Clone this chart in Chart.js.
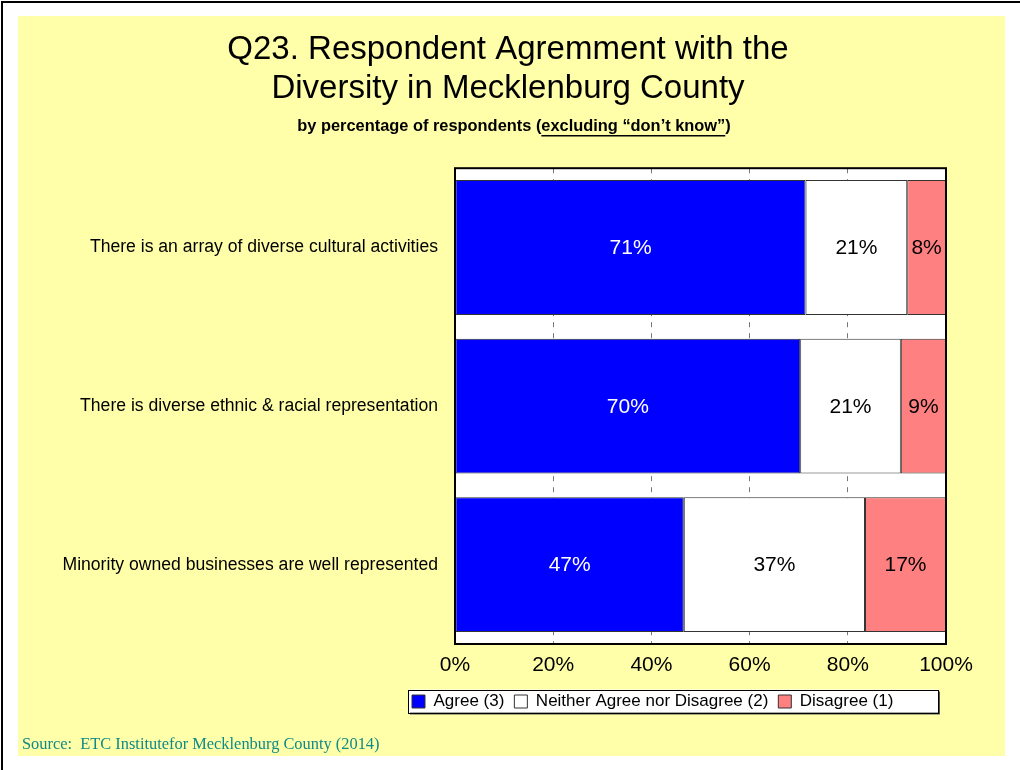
<!DOCTYPE html>
<html>
<head>
<meta charset="utf-8">
<script src="https://cdn.jsdelivr.net/npm/chart.js@4.4.0/dist/chart.umd.min.js"></script>
<style>
  body { margin: 0; background: #fff; }
  #frame { position: absolute; left: 1px; top: 1px; width: 1019px; height: 769px;
           border-left: 2px solid #000; border-top: 2px solid #000; }
  #wrap { position: absolute; left: 18px; top: 16px; width: 987px; height: 740px; background: #ffffaa; }
</style>
</head>
<body>
<div id="frame"></div>
<div id="wrap"><canvas id="myChart" width="987" height="740"></canvas></div>
<script>
var categories = [
    'There is an array of diverse cultural activities',
    'There is diverse ethnic & racial representation',
    'Minority owned businesses are well represented'
];
var agreeValues = [71.4, 70.3, 46.6];
var neitherValues = [20.7, 20.5, 36.9];
var disagreeValues = [7.9, 9.2, 16.5];
var seriesNames = ['Agree (3)', 'Neither Agree nor Disagree (2)', 'Disagree (1)'];
var seriesColors = ['#0000ff', '#ffffff', '#ff8080'];
var labelColors = ['#ffffff', '#000000', '#000000'];
var xTicks = [0, 20, 40, 60, 80, 100];
var titleLines = ['Q23. Respondent Agremment with the', 'Diversity in Mecklenburg County'];
var subtitleParts = ['by percentage of respondents (', 'excluding \u201cdon\u2019t know\u201d', ')'];
var sourceText = 'Source:  ETC Institutefor Mecklenburg County (2014)';

var sans = "Arial, 'Liberation Sans', sans-serif";
Chart.defaults.font.family = sans;
Chart.defaults.color = '#000';

// legend row start inside the canvas, and the boxed legend size
var legendStartX = 394;
var legendBoxW = 530;

function legendRowStart(lg) {
    var pad = lg.options.labels.padding;
    return (lg.left + pad + lg.right - lg.lineWidths[0]) / 2;
}

var extras = {
    id: 'extras',
    afterLayout: function (chart) {
        var lg = chart.legend;
        var shift = legendStartX - legendRowStart(lg);
        lg.left += shift;
        lg.right += shift;
    },
    beforeDraw: function (chart) {
        var ctx = chart.ctx, a = chart.chartArea, lg = chart.legend;
        ctx.save();
        ctx.fillStyle = '#ffffff';
        ctx.fillRect(a.left, a.top, a.width, a.height);
        // legend box
        var cy = lg.top + lg.options.labels.padding + 8;
        var x0 = legendRowStart(lg) - 4;
        ctx.fillStyle = '#555';
        ctx.fillRect(x0 + 2, cy - 11.5 + 2, legendBoxW, 23);
        ctx.fillStyle = '#fff';
        ctx.fillRect(x0, cy - 11.5, legendBoxW, 23);
        ctx.strokeStyle = '#000';
        ctx.lineWidth = 1;
        ctx.strokeRect(Math.round(x0) + 0.5, Math.round(cy - 11.5) + 0.5, legendBoxW, 23);
        ctx.restore();
    },
    afterDatasetsDraw: function (chart) {
        var ctx = chart.ctx, a = chart.chartArea;
        ctx.save();
        ctx.font = '21px ' + sans;
        ctx.textAlign = 'center';
        ctx.textBaseline = 'middle';
        chart.data.datasets.forEach(function (ds, i) {
            chart.getDatasetMeta(i).data.forEach(function (bar, j) {
                ctx.fillStyle = labelColors[i];
                ctx.fillText(Math.round(ds.data[j]) + '%', (bar.x + bar.base) / 2, bar.y + 1);
            });
        });
        ctx.strokeStyle = '#000';
        ctx.lineWidth = 2;
        ctx.strokeRect(a.left, a.top, a.width, a.height);
        ctx.restore();
    },
    afterDraw: function (chart) {
        var ctx = chart.ctx;
        ctx.save();
        // subtitle with underlined part
        ctx.font = 'bold 16.4px ' + sans;
        ctx.fillStyle = '#000';
        ctx.textBaseline = 'middle';
        var full = subtitleParts.join('');
        var w = ctx.measureText(full).width;
        var x = 496 - w / 2, y = 110;
        ctx.textAlign = 'left';
        ctx.fillText(full, x, y);
        var w0 = ctx.measureText(subtitleParts[0]).width;
        var w1 = ctx.measureText(subtitleParts[1]).width;
        ctx.fillRect(x + w0, y + 9, w1, 1.5);
        // source note
        ctx.font = '16.4px "Liberation Serif", "Times New Roman", serif';
        ctx.fillStyle = '#108a84';
        ctx.textBaseline = 'alphabetic';
        ctx.fillText(sourceText, 4, 733);
        ctx.restore();
    }
};

function makeSet(i, values) {
    return {
        label: seriesNames[i],
        data: values,
        backgroundColor: seriesColors[i],
        borderColor: '#333',
        borderWidth: 1,
        borderSkipped: false,
        categoryPercentage: 1,
        barPercentage: 0.85
    };
}

new Chart('myChart', {
    type: 'bar',
    data: {
        labels: categories,
        datasets: [makeSet(0, agreeValues), makeSet(1, neitherValues), makeSet(2, disagreeValues)]
    },
    options: {
        indexAxis: 'y',
        responsive: false,
        animation: false,
        layout: { padding: { left: 0, right: 7, top: 0, bottom: 36 } },
        scales: {
            x: {
                stacked: true,
                min: 0,
                max: 100,
                afterBuildTicks: function (s) { s.ticks = xTicks.map(function (v) { return { value: v }; }); },
                afterFit: function (s) { s.height = 39; },
                grid: { color: '#777', drawTicks: false },
                border: { display: false, dash: [5, 6] },
                ticks: { padding: 9, font: { size: 21 }, callback: function (v) { return v + '%'; } }
            },
            y: {
                stacked: true,
                afterFit: function (s) { s.width = 437; },
                grid: { display: false },
                border: { display: false },
                ticks: { padding: 9, font: { size: 17.6 } }
            },
            yRight: {
                type: 'category',
                position: 'right',
                afterFit: function (s) { s.width = 52; },
                grid: { display: false },
                border: { display: false },
                ticks: { display: false }
            }
        },
        plugins: {
            title: {
                display: true,
                text: titleLines,
                color: '#000',
                font: { size: 33, weight: 'normal', lineHeight: 1.2 },
                padding: { top: 14, bottom: 59 }
            },
            legend: {
                position: 'bottom',
                labels: { boxWidth: 13, boxHeight: 13, padding: 10, color: '#000', font: { size: 17 } }
            },
            tooltip: { enabled: false }
        }
    },
    plugins: [extras]
});
</script>
</body>
</html>
